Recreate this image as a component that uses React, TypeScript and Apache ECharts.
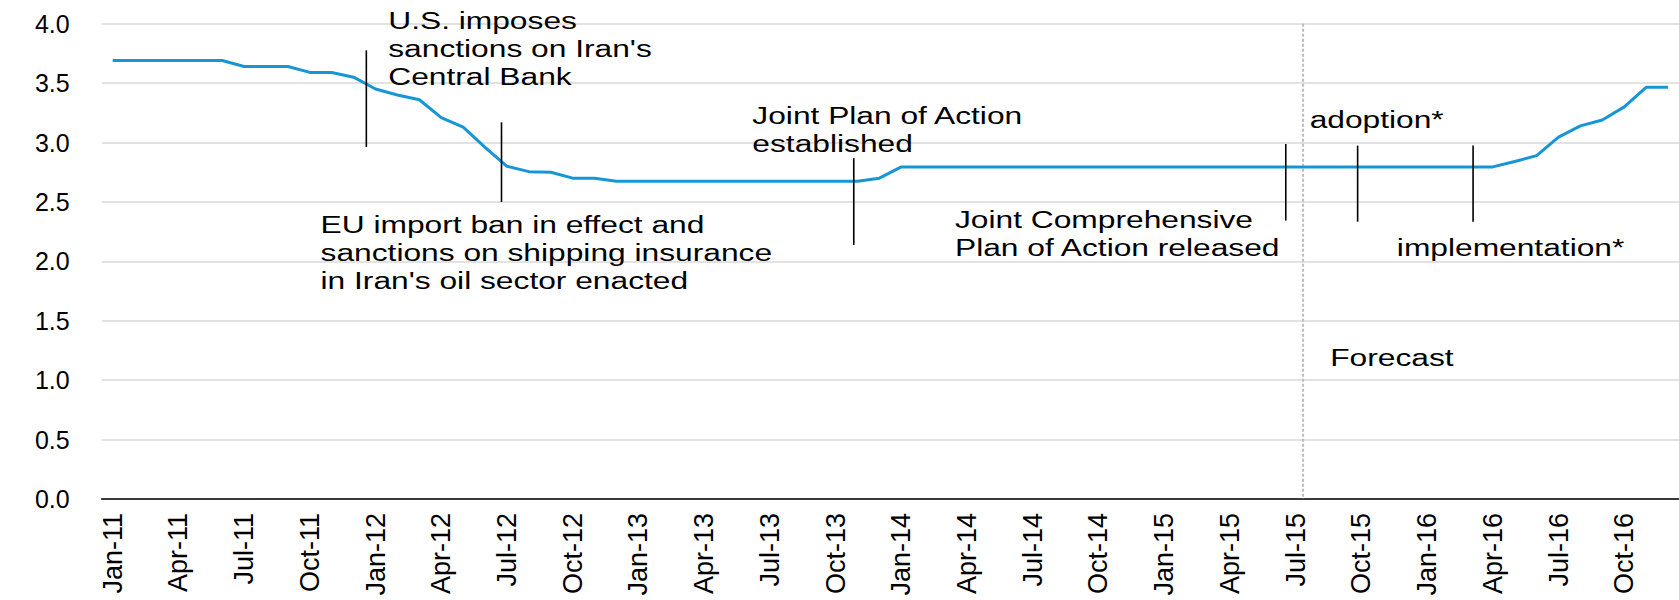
import React, { useEffect, useRef } from "react";
import * as echarts from "echarts";

const months = ["Jan", "Feb", "Mar", "Apr", "May", "Jun", "Jul", "Aug", "Sep", "Oct", "Nov", "Dec"];
const years = ["11", "12", "13", "14", "15", "16"];
const categories = years.flatMap((y) => months.map((m) => `${m}-${y}`));

// Monthly values, Jan-11 .. Dec-16
const values = [
  3.69, 3.69, 3.69, 3.69, 3.69, 3.69, 3.64, 3.64, 3.64, 3.59, 3.59, 3.55,
  3.45, 3.40, 3.36, 3.21, 3.13, 2.96, 2.80, 2.755, 2.75, 2.70, 2.70, 2.675,
  2.675, 2.675, 2.675, 2.675, 2.675, 2.675, 2.675, 2.675, 2.675, 2.675, 2.675, 2.70,
  2.795, 2.795, 2.795, 2.795, 2.795, 2.795, 2.795, 2.795, 2.795, 2.795, 2.795, 2.795,
  2.795, 2.795, 2.795, 2.795, 2.795, 2.795, 2.795, 2.795, 2.795, 2.795, 2.795, 2.795,
  2.795, 2.795, 2.795, 2.795, 2.84, 2.89, 3.045, 3.14, 3.19, 3.30, 3.465, 3.465,
];

// Annotation markers in data units: [month position, top value, bottom value]
const annotationLines = [
  [12.08, 3.776, 2.963],
  [18.25, 3.17, 2.5],
  [34.33, 2.868, 2.138],
  [54.05, 2.988, 2.343],
  [57.33, 2.974, 2.334],
  [62.6, 2.974, 2.334],
];
const forecastLine = [[54.84, 4.0, 0]];

const annotationTexts = [
  "U.S. imposes\nsanctions on Iran's\nCentral Bank",
  "EU import ban in effect and\nsanctions on shipping insurance\nin Iran's oil sector enacted",
  "Joint Plan of Action\nestablished",
  "Joint Comprehensive\nPlan of Action released",
  "adoption*",
  "implementation*",
  "Forecast",
];
// Top-left anchor of each text in data units: [month position, value]
const annotationTextPos = [
  [13.08, 4.139],
  [9.99, 2.422],
  [29.7, 3.342],
  [38.95, 2.464],
  [55.14, 3.306],
  [59.12, 2.231],
  [56.08, 1.305],
];

const FONT = "'Liberation Sans', Arial, sans-serif";

export default function App() {
  const ref = useRef<HTMLDivElement>(null);

  useEffect(() => {
    if (!ref.current) return;
    const chart = echarts.init(ref.current, undefined, { renderer: "svg" });
    chart.setOption({
      animation: false,
      grid: { left: 101.7, top: 23.7, width: 1580.9, height: 475.3 },
      xAxis: [
        {
          type: "category",
          data: categories,
          boundaryGap: true,
          axisLine: { lineStyle: { color: "#000", width: 1.5 } },
          axisTick: { interval: 2, length: 7, lineStyle: { color: "#000", width: 1.5 } },
          axisLabel: {
            interval: 2,
            rotate: 90,
            fontSize: 27,
            color: "#000",
            margin: 14,
            fontFamily: FONT,
          },
          splitLine: { show: false },
        },
        { type: "value", min: 0, max: 72, show: false },
      ],
      yAxis: {
        type: "value",
        min: 0,
        max: 4,
        interval: 0.5,
        axisLine: { show: false },
        axisTick: { show: false },
        axisLabel: {
          formatter: (v: number) => v.toFixed(1),
          fontSize: 25,
          color: "#000",
          margin: 32,
          fontFamily: FONT,
        },
        splitLine: { lineStyle: { color: "#d9d9d9", width: 1.5 } },
      },
      series: [
        {
          type: "line",
          data: values,
          symbol: "none",
          lineStyle: { color: "#1796d6", width: 3 },
          z: 3,
        },
        {
          type: "custom",
          xAxisIndex: 1,
          yAxisIndex: 0,
          clip: false,
          silent: true,
          data: forecastLine,
          encode: { x: 0, y: [1, 2] },
          renderItem: (params: any, api: any) => {
            const p1 = api.coord([api.value(0), api.value(1)]);
            const p2 = api.coord([api.value(0), api.value(2)]);
            return {
              type: "line",
              shape: { x1: p1[0], y1: p1[1], x2: p2[0], y2: p2[1] },
              style: { stroke: "#bdbdbd", lineWidth: 2, lineDash: [3, 2] },
            };
          },
          z: 1,
        },
        {
          type: "custom",
          xAxisIndex: 1,
          yAxisIndex: 0,
          clip: false,
          silent: true,
          data: annotationLines,
          encode: { x: 0, y: [1, 2] },
          renderItem: (params: any, api: any) => {
            const p1 = api.coord([api.value(0), api.value(1)]);
            const p2 = api.coord([api.value(0), api.value(2)]);
            return {
              type: "line",
              shape: { x1: p1[0], y1: p1[1], x2: p2[0], y2: p2[1] },
              style: { stroke: "#000", lineWidth: 1.6 },
            };
          },
          z: 4,
        },
        {
          type: "custom",
          xAxisIndex: 1,
          yAxisIndex: 0,
          clip: false,
          silent: true,
          data: annotationTextPos,
          encode: { x: 0, y: 1 },
          renderItem: (params: any, api: any) => {
            const p = api.coord([api.value(0), api.value(1)]);
            return {
              type: "text",
              x: p[0],
              y: p[1],
              scaleX: 1.38,
              style: {
                text: annotationTexts[params.dataIndex],
                fill: "#000",
                fontSize: 23,
                fontFamily: FONT,
                lineHeight: 28,
                align: "left",
                verticalAlign: "top",
              },
            };
          },
          z: 5,
        },
      ],
    });
    return () => chart.dispose();
  }, []);

  return (
    <div
      ref={ref}
      style={{ position: "fixed", left: 0, top: 0, width: 1679, height: 600, background: "#fff" }}
    />
  );
}
